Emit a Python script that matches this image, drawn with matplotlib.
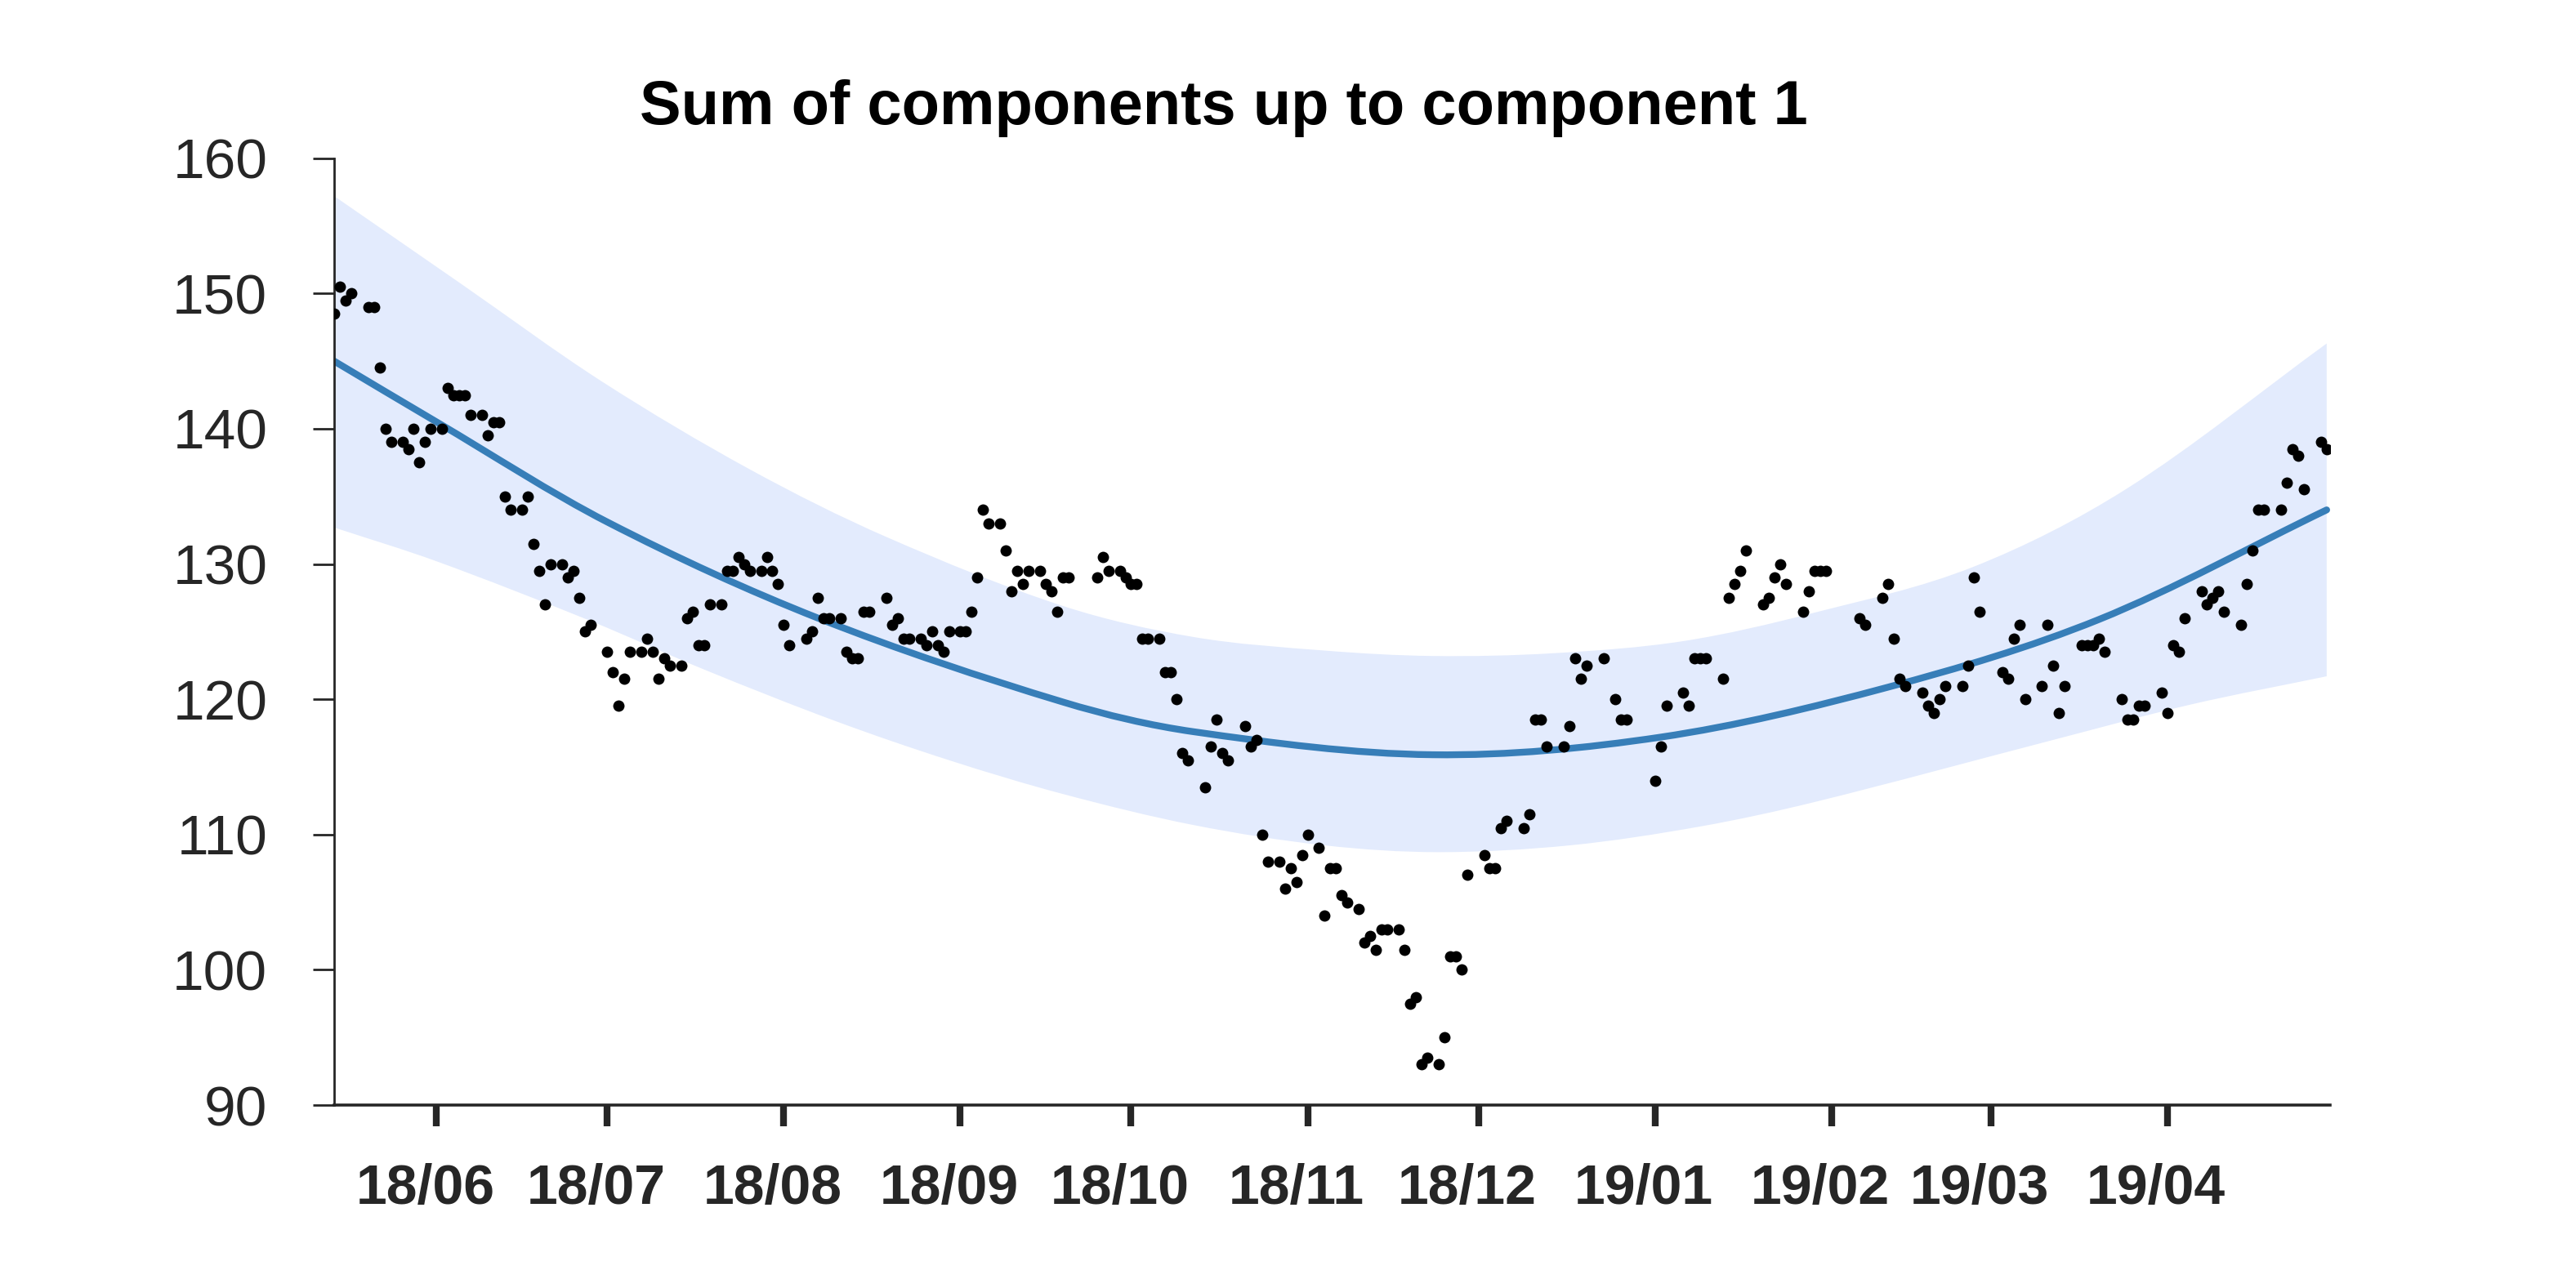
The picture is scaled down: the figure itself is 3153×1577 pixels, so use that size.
import numpy as np
import pandas as pd
import matplotlib
matplotlib.use('Agg')
import matplotlib.pyplot as plt
import matplotlib.dates as mdates
import matplotlib.transforms as mtransforms
from matplotlib.path import Path
from matplotlib.patches import PathPatch

plt.rcParams['font.family'] = ['Liberation Sans', 'DejaVu Sans']

# Dados (dias contados a partir de start_date)
start_date = '2018-05-14'

day = [0, 1, 2, 3, 6, 7, 8, 9, 10, 12, 13, 14, 15, 16, 17, 19, 20, 21, 22, 23,
       24, 26, 27, 28, 29, 30, 31, 33, 34, 35, 36, 37, 38, 40, 41, 42, 43, 44, 45,
       48, 49, 50, 51, 52, 54, 55, 56, 57, 58, 59, 61, 62, 63, 64, 65, 66, 68, 69,
       70, 71, 72, 73, 75, 76, 77, 78, 79, 80, 83, 84, 85, 86, 87, 89, 90, 91, 92,
       93, 94, 97, 98, 99, 100, 101, 103, 104, 105, 106, 107, 108, 110, 111, 112,
       113, 114, 115, 117, 118, 119, 120, 121, 122, 124, 125, 126, 127, 128, 129,
       134, 135, 136, 138, 139, 140, 141, 142, 143, 145, 146, 147, 148, 149, 150,
       153, 154, 155, 156, 157, 160, 161, 162, 163, 164, 166, 167, 168, 169, 170,
       171, 173, 174, 175, 176, 177, 178, 180, 181, 182, 183, 184, 185, 187, 188,
       189, 190, 191, 192, 194, 195, 196, 197, 198, 199, 202, 203, 204, 205, 206,
       209, 210, 211, 212, 213, 216, 217, 218, 219, 220, 223, 225, 226, 227, 232,
       233, 234, 237, 238, 239, 240, 241, 244, 245, 246, 247, 248, 251, 252, 253,
       254, 255, 258, 259, 260, 261, 262, 268, 269, 272, 273, 274, 275, 276, 279,
       280, 281, 282, 283, 286, 287, 288, 289, 293, 294, 295, 296, 297, 300, 301,
       302, 303, 304, 307, 308, 309, 310, 311, 314, 315, 316, 317, 318, 321, 322,
       323, 324, 325, 328, 329, 330, 331, 332, 335, 336, 337, 338, 339, 342, 343,
       344, 345, 346, 349, 350]

value = [148.5, 150.5, 149.5, 150.0, 149.0, 149.0, 144.5, 140.0, 139.0, 139.0,
         138.5, 140.0, 137.5, 139.0, 140.0, 140.0, 143.0, 142.5, 142.5, 142.5,
         141.0, 141.0, 139.5, 140.5, 140.5, 135.0, 134.0, 134.0, 135.0, 131.5,
         129.5, 127.0, 130.0, 130.0, 129.0, 129.5, 127.5, 125.0, 125.5,
         123.5, 122.0, 119.5, 121.5, 123.5, 123.5, 124.5, 123.5, 121.5, 123.0,
         122.5, 122.5, 126.0, 126.5, 124.0, 124.0, 127.0, 127.0, 129.5,
         129.5, 130.5, 130.0, 129.5, 129.5, 130.5, 129.5, 128.5, 125.5, 124.0,
         124.5, 125.0, 127.5, 126.0, 126.0, 126.0, 123.5, 123.0, 123.0,
         126.5, 126.5, 127.5, 125.5, 126.0, 124.5, 124.5, 124.5, 124.0, 125.0,
         124.0, 123.5, 125.0, 125.0, 125.0, 126.5,
         129.0, 134.0, 133.0, 133.0, 131.0, 128.0, 129.5, 128.5, 129.5, 129.5,
         128.5, 128.0, 126.5, 129.0, 129.0,
         129.0, 130.5, 129.5, 129.5, 129.0, 128.5, 128.5, 124.5, 124.5, 124.5,
         122.0, 122.0, 120.0, 116.0, 115.5,
         113.5, 116.5, 118.5, 116.0, 115.5, 118.0, 116.5, 117.0, 110.0, 108.0,
         108.0, 106.0, 107.5, 106.5, 108.5,
         110.0, 109.0, 104.0, 107.5, 107.5, 105.5, 105.0, 104.5, 102.0, 102.5,
         101.5, 103.0, 103.0, 103.0, 101.5,
         97.5, 98.0, 93.0, 93.5, 93.0, 95.0, 101.0, 101.0, 100.0, 107.0, 108.5,
         107.5, 107.5, 110.5, 111.0,
         110.5, 111.5, 118.5, 118.5, 116.5, 116.5, 118.0, 123.0, 121.5, 122.5,
         123.0, 120.0, 118.5, 118.5, 114.0,
         116.5, 119.5, 120.5, 119.5, 123.0, 123.0, 123.0, 121.5, 127.5, 128.5,
         129.5, 131.0, 127.0, 127.5, 129.0,
         130.0, 128.5, 126.5, 128.0, 129.5, 129.5, 129.5, 126.0, 125.5, 127.5,
         128.5, 124.5, 121.5, 121.0, 120.5,
         119.5, 119.0, 120.0, 121.0, 121.0, 122.5, 129.0, 126.5, 122.0, 121.5,
         124.5, 125.5, 120.0, 121.0, 125.5,
         122.5, 119.0, 121.0, 124.0, 124.0, 124.0, 124.5, 123.5, 120.0, 118.5,
         118.5, 119.5, 119.5, 120.5, 119.0,
         124.0, 123.5, 126.0, 128.0, 127.0, 127.5, 128.0, 126.5, 125.5, 128.5,
         131.0, 134.0, 134.0, 134.0, 136.0,
         138.5, 138.0, 135.5, 139.0, 138.5]

# Componente 1 (tendencia) e faixa de incerteza, lidos em alguns pontos
trend_day = [0, 18, 48, 85, 128, 151, 193, 233, 273, 310, 350]
trend_val = [145.0, 140.5, 133.1, 126.0, 119.8, 117.6, 115.9, 117.2, 120.9,
             125.9, 134.0]

upper_day = [0, 22, 47, 73, 97, 128, 151, 174, 193, 214, 237, 260, 288, 315, 350]
upper_val = [157.2, 150.8, 143.5, 137.0, 132.0, 126.9, 124.6, 123.6, 123.2,
             123.4, 124.3, 126.4, 129.8, 135.6, 146.3]

lower_day = [0, 18, 45, 65, 88, 108, 128, 151, 174, 194, 217, 240, 260, 302,
             326, 350]
lower_val = [132.7, 130.2, 125.8, 122.2, 118.4, 115.5, 113.0, 110.7, 109.2,
             108.7, 109.2, 110.6, 112.4, 117.0, 119.6, 121.7]

t0 = pd.Timestamp(start_date)
def to_dates(d):
    return t0 + pd.to_timedelta(np.asarray(d), unit='D')

def smooth_segments(d, v):
    # curva cubica (Hermite -> Bezier) passando pelos pontos lidos
    x = mdates.date2num(to_dates(d))
    y = np.asarray(v, dtype=float)
    n = len(x)
    m = np.zeros(n)
    m[0] = (y[1] - y[0]) / (x[1] - x[0])
    m[-1] = (y[-1] - y[-2]) / (x[-1] - x[-2])
    for i in range(1, n - 1):
        m[i] = (y[i + 1] - y[i - 1]) / (x[i + 1] - x[i - 1])
    verts = [(x[0], y[0])]
    for i in range(n - 1):
        h = x[i + 1] - x[i]
        verts += [(x[i] + h / 3, y[i] + m[i] * h / 3),
                  (x[i + 1] - h / 3, y[i + 1] - m[i + 1] * h / 3),
                  (x[i + 1], y[i + 1])]
    return verts

dates = to_dates(day)

fig = plt.figure(figsize=(15.765, 7.885), dpi=200)
ax = fig.add_axes([0.1297, 0.142, 0.7748, 0.7352])

# faixa
up = smooth_segments(upper_day, upper_val)
lo = smooth_segments(lower_day, lower_val)[::-1]
band_verts = up + lo + [up[0]]
band_codes = ([Path.MOVETO] + [Path.CURVE4] * (len(up) - 1) +
              [Path.LINETO] + [Path.CURVE4] * (len(lo) - 1) + [Path.CLOSEPOLY])
ax.add_patch(PathPatch(Path(band_verts, band_codes), facecolor='#e3ebfd',
                       lw=0, zorder=1))

tv = smooth_segments(trend_day, trend_val)
tc = [Path.MOVETO] + [Path.CURVE4] * (len(tv) - 1)
ax.add_patch(PathPatch(Path(tv, tc), facecolor='none', edgecolor='#377eb8',
                       lw=3.0, capstyle='round', zorder=2))

ax.plot(dates, value, 'o', color='black', ms=5.0, mew=0, zorder=3)

ax.set_xlim(dates[0], dates[-1] + pd.Timedelta(hours=14))
ax.set_ylim(90, 160)
ax.set_yticks(np.arange(90, 161, 10))

ax.xaxis.set_major_locator(mdates.MonthLocator())
ax.xaxis.set_major_formatter(mdates.DateFormatter('%y/%m'))

for s in ['top', 'right']:
    ax.spines[s].set_visible(False)
ax.spines['left'].set_linewidth(1.0)
ax.spines['bottom'].set_linewidth(1.3)
for s in ['left', 'bottom']:
    ax.spines[s].set_color('#262626')

ax.tick_params(axis='y', direction='out', length=9.4, width=1.0, pad=20,
               labelsize=25, colors='#262626')
ax.tick_params(axis='x', direction='out', length=9.4, width=3.0, pad=16,
               labelsize=24.5, colors='#262626')
for lab in ax.get_xticklabels():
    lab.set_fontweight('bold')
    lab.set_transform(lab.get_transform() +
                      mtransforms.ScaledTranslation(-0.07, 0, fig.dpi_scale_trans))

fig.text(0.475, 0.916, 'Sum of components up to component 1', ha='center',
         va='center', fontsize=27.3, fontweight='bold', color='black')

fig.savefig('out.png', dpi=200)
